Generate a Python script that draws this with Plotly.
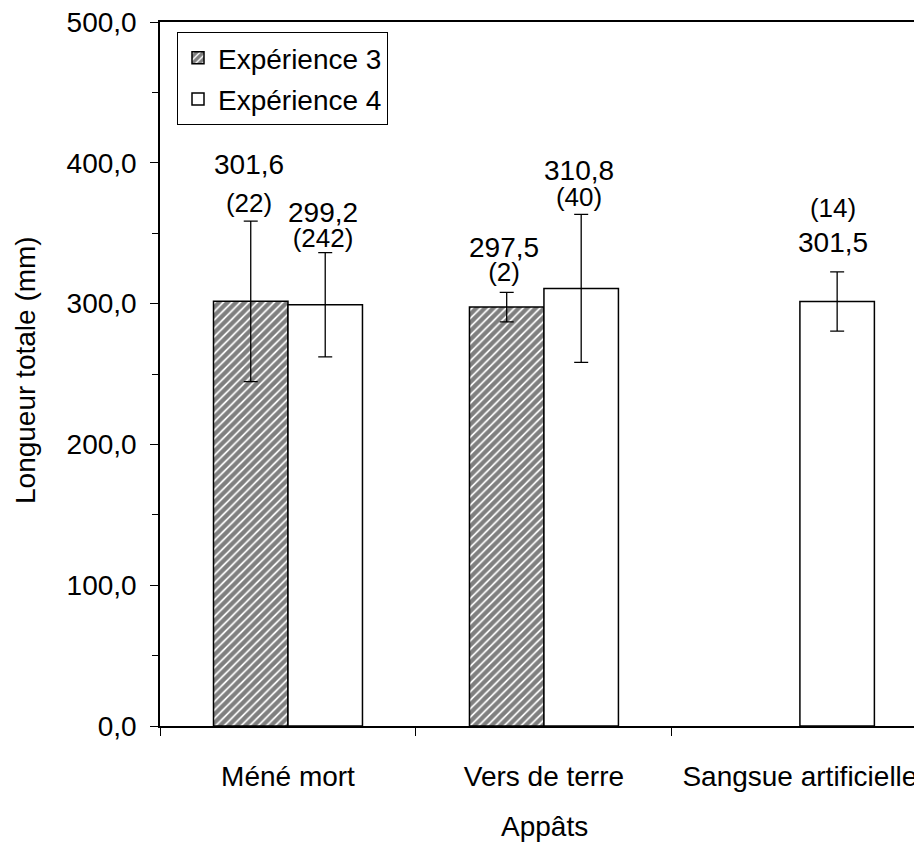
import plotly.graph_objects as go

categories = ["Méné mort", "Vers de terre", "Sangsue artificielle"]
exp3_values = [301.6, 297.5, None]
exp3_err = [57.0, 10.5, None]
exp3_counts = ["(22)", "(2)", None]
exp4_values = [299.2, 310.8, 301.5]
exp4_err = [37.0, 52.5, 21.0]
exp4_counts = ["(242)", "(40)", "(14)"]
value_labels3 = ["301,6", "297,5", None]
value_labels4 = ["299,2", "310,8", "301,5"]
y_ticks = [0, 100, 200, 300, 400, 500]

FONT = "Arial, Liberation Sans, sans-serif"
OFF = 8  # default page body margin
W, H = 922 - OFF, 852 - OFF
L, R, T = 160 - OFF, 0, 22 - OFF
B = H - (726 - OFF)
pw, ph = W - L - R, H - T - B


def px_to_paper(x_page, y_page):
    return (x_page - OFF - L) / pw, (H - B - (y_page - OFF)) / ph


fig = go.Figure()
fig.add_trace(go.Bar(
    x=categories, y=exp3_values, name="Expérience 3", legendgroup="a",
    marker=dict(color="white", line=dict(color="black", width=1.5),
                pattern=dict(shape="/", fgcolor="black", bgcolor="white", size=6, solidity=0.7)),
    error_y=dict(type="data", array=exp3_err, color="black", thickness=1.3, width=7),
))
fig.add_trace(go.Bar(
    x=categories, y=exp4_values, name="Expérience 4", legendgroup="b",
    marker=dict(color="white", line=dict(color="black", width=1.5)),
    error_y=dict(type="data", array=exp4_err, color="black", thickness=1.3, width=7),
))


def label(top, bottom, top_size, bottom_size):
    return (f"<span style='font-size:{top_size}px'>{top}</span><br>"
            f"<span style='font-size:{bottom_size}px'>{bottom}</span>")


ann = []
# (centre y in data units, base font size controlling line spacing, x shift)
lab3 = [(385, 29, -39), (331.5, 18.5, -40), None]
lab4 = [(356, 19, 35), (385.5, 20, 35), (355.5, 27, 33)]
for i, c in enumerate(categories):
    if exp3_values[i] is not None:
        y, fs, xs = lab3[i]
        ann.append(dict(x=c, y=y, xref="x", yref="y", xanchor="center", yanchor="middle",
                        text=label(value_labels3[i], exp3_counts[i], 28, 26), showarrow=False,
                        xshift=xs, font=dict(size=fs, family=FONT, color="black")))
    y, fs, xs = lab4[i]
    if i < 2:
        txt = label(value_labels4[i], exp4_counts[i], 28, 26)
    else:
        txt = label(exp4_counts[i], value_labels4[i], 26, 28)
    ann.append(dict(x=c, y=y, xref="x", yref="y", xanchor="center", yanchor="middle",
                    text=txt, showarrow=False,
                    xshift=xs, font=dict(size=fs, family=FONT, color="black")))

yx, yy = px_to_paper(26, 370)
ann.append(dict(x=yx, y=yy, xref="paper", yref="paper", xanchor="center", yanchor="middle",
                text="Longueur totale (mm)", showarrow=False,
                textangle=-90, font=dict(size=28, family=FONT, color="black")))
xx, xy = px_to_paper(544, 826)
ann.append(dict(x=xx, y=xy, xref="paper", yref="paper", xanchor="center", yanchor="middle",
                text="Appâts", showarrow=False,
                font=dict(size=28, family=FONT, color="black")))

lx, ly = px_to_paper(177, 32)

fig.update_layout(
    width=W, height=H,
    margin=dict(l=L, r=R, t=T, b=B, pad=0),
    paper_bgcolor="white", plot_bgcolor="white",
    barmode="group", bargap=0.418, bargroupgap=0,
    separators=",.",
    font=dict(family=FONT, size=28, color="black"),
    showlegend=True,
    legend=dict(x=lx, y=ly, xanchor="left", yanchor="top",
                bordercolor="black", borderwidth=1, bgcolor="white",
                font=dict(size=28, family=FONT, color="black"),
                tracegroupgap=2, traceorder="grouped"),
    annotations=ann,
    xaxis=dict(type="category", range=[-0.5, 2.477], showline=True, linecolor="black", linewidth=1.5,
               mirror=True, ticks="outside", tickson="boundaries", ticklen=8, tickcolor="black",
               tickwidth=1, showgrid=False, zeroline=False, ticklabelstandoff=25,
               tickfont=dict(size=28, family=FONT, color="black")),
    yaxis=dict(range=[0, 500], tickvals=y_ticks, tickformat=".1f", showline=True, linecolor="black",
               linewidth=1.5, ticks="outside", ticklen=8, tickcolor="black", tickwidth=1,
               showgrid=False, zeroline=False, ticklabelstandoff=8, ticklabeloverflow="allow",
               minor=dict(dtick=50, ticks="outside", ticklen=6, tickcolor="black", tickwidth=1, showgrid=False),
               tickfont=dict(size=28, family=FONT, color="black")),
)

fig.write_html("out.html")
